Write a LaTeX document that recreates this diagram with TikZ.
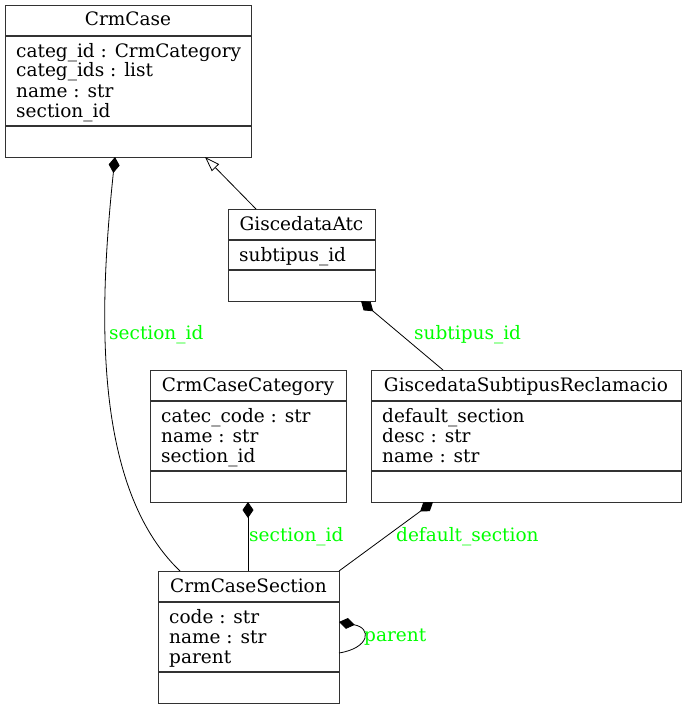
\documentclass[tikz,border=0pt]{standalone}
\usepackage{fontspec}
\setmainfont{DejaVu Serif}
\usetikzlibrary{arrows.meta}
\definecolor{lblgreen}{RGB}{0,255,0}
\definecolor{boxline}{RGB}{50,50,50}
\tikzset{
  umlbox/.style={draw=boxline, line width=1.1pt, inner sep=0pt, anchor=north west},
  sepline/.style={draw=boxline, line width=1.1pt},
  ttl/.style={anchor=base, inner sep=0pt, font=\fontsize{18.5}{20}\selectfont},
  attr/.style={anchor=base west, inner sep=0pt, font=\fontsize{18.5}{20}\selectfont},
  elabel/.style={anchor=base west, inner sep=0pt, text=lblgreen, font=\fontsize{18.5}{20}\selectfont},
  conn/.style={line width=0.8pt},
  comp/.style={conn, {Diamond[length=16pt,width=11pt]}-},
  inh/.style={conn, -{Triangle[open,length=15pt,width=10pt,fill=white]}},
}
\begin{document}
\begin{tikzpicture}[x=1pt,y=-1pt]
\useasboundingbox (0,0) rectangle (686,709);

% CrmCase
\node[umlbox, minimum width=246pt, minimum height=152pt] (crmcase) at (5,5) {};
\draw[sepline] (5,36) -- (251,36);
\draw[sepline] (5,126) -- (251,126);
\node[ttl] (crmcaseT) at (128,26) {CrmCase};
\node[attr] (crmcaseA1) at (16,57) {categ\_id : CrmCategory};
\node[attr] (crmcaseA2) at (16,77) {categ\_ids : list};
\node[attr] (crmcaseA3) at (16,97) {name : str};
\node[attr] (crmcaseA4) at (16,117) {section\_id};

% GiscedataAtc
\node[umlbox, minimum width=147pt, minimum height=92pt] (atc) at (228,209) {};
\draw[sepline] (228,240) -- (375,240);
\draw[sepline] (228,270) -- (375,270);
\node[ttl] (atcT) at (301.5,230) {GiscedataAtc};
\node[attr] (atcA1) at (239,261) {subtipus\_id};

% CrmCaseCategory
\node[umlbox, minimum width=196pt, minimum height=132pt] (cat) at (150,370) {};
\draw[sepline] (150,401) -- (346,401);
\draw[sepline] (150,471) -- (346,471);
\node[ttl] (catT) at (248,391) {CrmCaseCategory};
\node[attr] (catA1) at (161,422) {catec\_code : str};
\node[attr] (catA2) at (161,442) {name : str};
\node[attr] (catA3) at (161,462) {section\_id};

% GiscedataSubtipusReclamacio
\node[umlbox, minimum width=310pt, minimum height=132pt] (gsr) at (371,370) {};
\draw[sepline] (371,401) -- (681,401);
\draw[sepline] (371,471) -- (681,471);
\node[ttl] (gsrT) at (526,391) {GiscedataSubtipusReclamacio};
\node[attr] (gsrA1) at (382,422) {default\_section};
\node[attr] (gsrA2) at (382,442) {desc : str};
\node[attr] (gsrA3) at (382,462) {name : str};

% CrmCaseSection
\node[umlbox, minimum width=181pt, minimum height=132pt] (sec) at (158,571) {};
\draw[sepline] (158,602) -- (339,602);
\draw[sepline] (158,672) -- (339,672);
\node[ttl] (secT) at (248.5,592) {CrmCaseSection};
\node[attr] (secA1) at (169,623) {code : str};
\node[attr] (secA2) at (169,643) {name : str};
\node[attr] (secA3) at (169,663) {parent};

% attachment points
\coordinate (crmcaseB1) at (115,157);
\coordinate (crmcaseB2) at (205,157);
\coordinate (atcTop) at (256,209);
\coordinate (atcBot) at (361,301);
\coordinate (gsrTop) at (443,370);
\coordinate (gsrBot) at (433,502);
\coordinate (catBot) at (248,502);
\coordinate (secTop1) at (180,571);
\coordinate (secTop2) at (248,571);
\coordinate (secTop3) at (339,571);
\coordinate (secR1) at (339,622);
\coordinate (secR2) at (339,653);

% connectors
\draw[inh] (atcTop) -- (crmcaseB2);
\draw[comp] (crmcaseB1) .. controls (100,300) and (90,485) .. (secTop1);
\draw[comp] (atcBot) -- (gsrTop);
\draw[comp] (catBot) -- (secTop2);
\draw[comp] (gsrBot) -- (secTop3);
\draw[comp] (secR1) .. controls (372,628) and (370,648) .. (secR2);

% labels
\node[elabel] (l1) at (109,339) {section\_id};
\node[elabel] (l2) at (414,339) {subtipus\_id};
\node[elabel] (l3) at (249,541) {section\_id};
\node[elabel] (l4) at (396,541) {default\_section};
\node[elabel] (l5) at (364,641) {parent};
\end{tikzpicture}
\end{document}
